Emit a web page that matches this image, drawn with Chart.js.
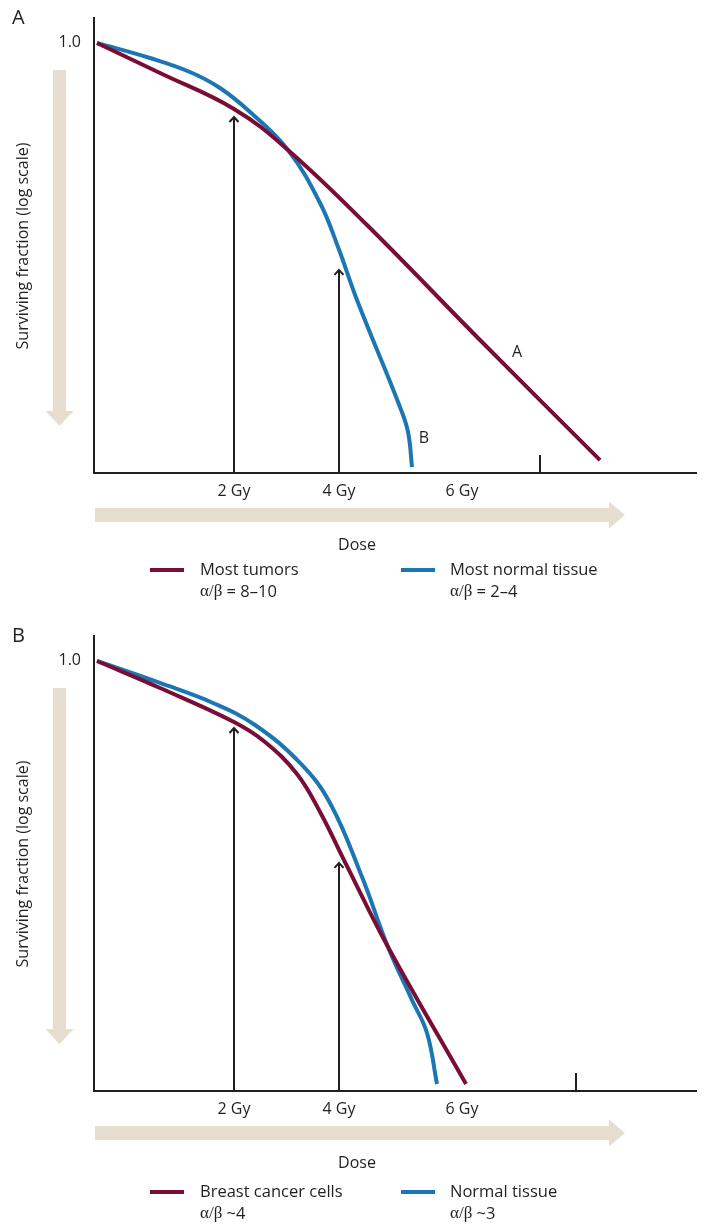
<!DOCTYPE html>
<html><head><meta charset="utf-8">
<script src="https://cdn.jsdelivr.net/npm/chart.js@4.4.1/dist/chart.umd.min.js"></script>
<style>
html,body{margin:0;padding:0;background:#fff;}
#wrap{width:709px;height:1227px;position:relative;overflow:hidden;}
canvas{display:block;}
</style></head><body>
<div id="wrap">
<canvas id="cA" width="709" height="618"></canvas>
<canvas id="cB" width="709" height="609"></canvas>
</div>
<script>
// ---------- data (schematic dose units, surviving fraction on log scale) ----------
const doseTickValues = [2.0, 3.5, 5.257];
const doseTickLabels = ['2 Gy', '4 Gy', '6 Gy'];
const xMax = 8.614;
const yMin = 0.001, yMax = 1.518;
const yTickValue = 1.0, yTickLabel = '1.0';

// Panel A
const tumorDoseA = [0.043, 0.943, 2.0, 2.771, 3.9, 5.514, 7.229];
const tumorSurvA = [1.0, 0.6176, 0.3464, 0.1793, 0.0537, 0.00847, 0.00123];
const normalDoseA = [0.043, 0.8, 1.371, 1.8, 2.229, 2.771, 3.229, 3.486, 3.757, 4.371, 4.486, 4.543];
const normalSurvA = [1.0, 0.7855, 0.6274, 0.4852, 0.330, 0.1793, 0.0765, 0.0377, 0.0161, 0.00289, 0.001932, 0.0011];
const arrowDoseA = [2.0, 3.5];
const arrowSurvA = [0.3045, 0.0261];
const extraTickA = 6.371;
const curveLabelTextA = ['A', 'B'];
const curveLabelDoseA = [6.043, 4.714];
const curveLabelSurvA = [0.00698, 0.00175];
const legendNamesA = ['Most tumors', 'Most normal tissue'];
const legendRatiosA = [' = 8\u201310', ' = 2\u20134'];

// Panel B
const cancerDoseB = [0.043, 0.943, 2.0, 2.443, 2.9, 3.229, 3.6, 4.2, 5.314];
const cancerSurvB = [1.0, 0.648, 0.3752, 0.2722, 0.1628, 0.0884, 0.0383, 0.01011, 0.001119];
const normalDoseB = [0.043, 0.943, 1.7, 2.3, 2.943, 3.371, 3.829, 4.2, 4.543, 4.757, 4.9];
const normalSurvB = [1.0, 0.7023, 0.5094, 0.3576, 0.1943, 0.1022, 0.0311, 0.01011, 0.00431, 0.00254, 0.001119];
const arrowDoseB = [2.0, 3.5];
const arrowSurvB = [0.3407, 0.039];
const extraTickB = 6.886;
const legendNamesB = ['Breast cancer cells', 'Normal tissue'];
const legendRatiosB = [' ~4', ' ~3'];

// ---------- styles ----------
const RED = '#7a0d36';
const BLUE = '#1c76b2';
const INK = '#231f20';
const BEIGE = '#e7ddcf';
const SANS = '"Open Sans", "Noto Sans", sans-serif';
const SERIF = '"Liberation Serif", "DejaVu Serif", serif';

function pts(xs, ys) { return xs.map((v, i) => ({x: v, y: ys[i]})); }

function makePanel(id, p) {
  const el = document.getElementById(id);
  const H = el.height;
  const deco = {
    id: 'deco' + id,
    beforeDatasetsDraw(chart) {
      const {ctx, chartArea: a, scales: {x, y}} = chart;
      ctx.save();
      // vertical beige arrow
      const vx = 59.5, vTop = a.top + 53, vTip = a.top + 409, vHead = vTip - 15;
      ctx.fillStyle = BEIGE;
      ctx.fillRect(vx - 6.5, vTop, 13, vHead - vTop);
      ctx.beginPath(); ctx.moveTo(vx - 14, vHead); ctx.lineTo(vx + 14, vHead); ctx.lineTo(vx, vTip); ctx.closePath(); ctx.fill();
      // horizontal beige arrow
      const hy = a.bottom + 42, hL = a.left + 1, hTip = a.left + 531, hHead = hTip - 16;
      ctx.fillRect(hL, hy - 7, hHead - hL, 14);
      ctx.beginPath(); ctx.moveTo(hHead, hy - 13.5); ctx.lineTo(hTip, hy); ctx.lineTo(hHead, hy + 13.5); ctx.closePath(); ctx.fill();
      // axes
      ctx.strokeStyle = INK; ctx.lineWidth = 2;
      ctx.beginPath(); ctx.moveTo(a.left, a.top); ctx.lineTo(a.left, a.bottom); ctx.lineTo(a.right, a.bottom); ctx.stroke();
      // extra tick
      const ex = Math.round(x.getPixelForValue(p.extraTick));
      ctx.beginPath(); ctx.moveTo(ex, a.bottom); ctx.lineTo(ex, a.bottom - 18); ctx.stroke();
      // dose arrows
      p.arrowDose.forEach((d, i) => {
        const ax = Math.round(x.getPixelForValue(d));
        const ay = y.getPixelForValue(p.arrowSurv[i]);
        ctx.beginPath(); ctx.moveTo(ax, a.bottom); ctx.lineTo(ax, ay); ctx.stroke();
        ctx.beginPath(); ctx.moveTo(ax - 4.5, ay + 5); ctx.lineTo(ax, ay); ctx.lineTo(ax + 4.5, ay + 5); ctx.stroke();
      });
      // text
      ctx.fillStyle = INK;
      ctx.font = '16px ' + SANS;
      ctx.textAlign = 'center'; ctx.textBaseline = 'middle';
      doseTickValues.forEach((v, i) => ctx.fillText(doseTickLabels[i], x.getPixelForValue(v), a.bottom + 18));
      ctx.fillText('Dose', 357, a.bottom + 72);
      ctx.textAlign = 'right';
      ctx.fillText(yTickLabel, 81, y.getPixelForValue(yTickValue) - 1);
      ctx.save();
      ctx.translate(23, a.top + 229); ctx.rotate(-Math.PI / 2);
      ctx.textAlign = 'center';
      ctx.fillText('Surviving fraction (log scale)', 0, 0);
      ctx.restore();
      ctx.textAlign = 'left';
      ctx.font = '20px ' + SANS;
      ctx.fillText(p.letter, 12, a.top + 1);
      // curve labels
      ctx.font = '16px ' + SANS; ctx.textAlign = 'center';
      (p.curveText || []).forEach((t, i) => ctx.fillText(t, x.getPixelForValue(p.curveDose[i]), y.getPixelForValue(p.curveSurv[i])));
      // legend
      const lx = [150, 401], tx = [200, 450];
      p.legendNames.forEach((n, i) => {
        ctx.strokeStyle = p.colors[i]; ctx.lineWidth = 4;
        ctx.beginPath(); ctx.moveTo(lx[i], p.legendY); ctx.lineTo(lx[i] + 34, p.legendY); ctx.stroke();
        ctx.textAlign = 'left'; ctx.fillStyle = INK;
        ctx.font = '16.5px ' + SANS;
        ctx.fillText(n, tx[i], p.legendY);
        ctx.font = '17px ' + SERIF;
        ctx.fillText('\u03b1/\u03b2', tx[i], p.legendY + 22);
        const w = ctx.measureText('\u03b1/\u03b2').width;
        ctx.font = '16.5px ' + SANS;
        ctx.fillText(p.legendRatios[i], tx[i] + w, p.legendY + 22);
      });
      ctx.restore();
    }
  };
  const ds = (xs, ys, c) => ({data: pts(xs, ys), borderColor: c, borderWidth: 4, pointRadius: 0, tension: 0.4, fill: false, borderCapStyle: 'butt'});
  return new Chart(el, {
    type: 'line',
    data: { datasets: [ ds(p.redX, p.redY, RED), ds(p.blueX, p.blueY, BLUE) ] },
    options: {
      responsive: false, animation: false, devicePixelRatio: 1,
      layout: {padding: {left: 94, top: 17, right: 12, bottom: H - 473}},
      plugins: {legend: {display: false}, tooltip: {enabled: false}},
      scales: {
        x: {type: 'linear', min: 0, max: xMax, display: false},
        y: {type: 'logarithmic', min: yMin, max: yMax, display: false}
      }
    },
    plugins: [deco]
  });
}

makePanel('cA', {
  letter: 'A', redX: tumorDoseA, redY: tumorSurvA, blueX: normalDoseA, blueY: normalSurvA,
  arrowDose: arrowDoseA, arrowSurv: arrowSurvA, extraTick: extraTickA,
  curveText: curveLabelTextA, curveDose: curveLabelDoseA, curveSurv: curveLabelSurvA,
  legendNames: legendNamesA, legendRatios: legendRatiosA, colors: [RED, BLUE], legendY: 570
});
makePanel('cB', {
  letter: 'B', redX: cancerDoseB, redY: cancerSurvB, blueX: normalDoseB, blueY: normalSurvB,
  arrowDose: arrowDoseB, arrowSurv: arrowSurvB, extraTick: extraTickB,
  legendNames: legendNamesB, legendRatios: legendRatiosB, colors: [RED, BLUE], legendY: 574
});
</script>
</body></html>
